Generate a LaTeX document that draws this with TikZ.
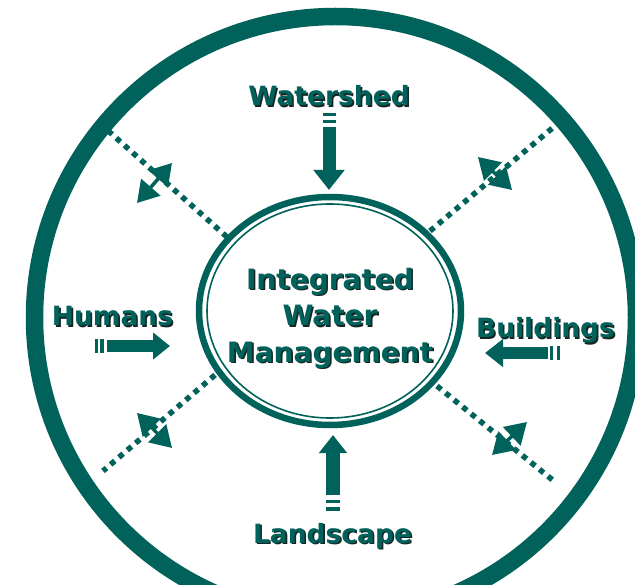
\documentclass[tikz,border=0pt]{standalone}
\usepackage{fontspec}
\setmainfont{DejaVu Sans}
\usetikzlibrary{arrows.meta,shapes.geometric}
\definecolor{iwmteal}{RGB}{0,98,90}
\definecolor{shadowc}{RGB}{22,38,36}
\newcommand\shd[1]{\leavevmode\rlap{\kern1.6pt\raisebox{-1.6pt}{\color{shadowc}#1}}#1}
\tikzset{
  lab/.style={text=iwmteal, font=\fontsize{26.5}{30}\selectfont\bfseries, anchor=base, inner sep=0pt},
  centertext/.style={text=iwmteal, font=\fontsize{28}{36.5}\selectfont\bfseries, align=center, inner sep=0pt},
  dotline/.style={draw=iwmteal, line width=5.5pt, dash pattern=on 5.5pt off 5.5pt},
  dblarrow/.style={draw=iwmteal, line width=3.5pt, {Triangle[length=21pt,width=25pt]}-{Triangle[length=21pt,width=25pt]}},
  tailbar/.style={draw=iwmteal},
}
\begin{document}
\begin{tikzpicture}[x=1pt,y=-1pt]
\useasboundingbox (0,0) rectangle (635,585);
\clip (0,0) rectangle (635,585);
\fill[white] (0,0) rectangle (635,585);
% outer ring
\draw[draw=iwmteal, line width=17.5pt] (335.5,317.5) circle [radius=301pt];
% central ellipse
\node[ellipse, draw=iwmteal, line width=6.5pt, minimum width=262pt, minimum height=228pt, inner sep=0pt] (iwm) at (330,311) {};
\draw[draw=iwmteal, line width=1.6pt] (iwm.center) ellipse [x radius=123pt, y radius=107pt];
\node[centertext] (iwmtext) at (330,319) {\shd{Integrated}\\\shd{Water}\\\shd{Management}};
% dotted diagonals
\coordinate (ulA) at (105,128); \coordinate (ulB) at (227,237);
\coordinate (urA) at (430,231); \coordinate (urB) at (562,120);
\coordinate (llA) at (215,375); \coordinate (llB) at (103,471);
\coordinate (lrA) at (437,386); \coordinate (lrB) at (555,482);
\draw[dotline] (ulB) -- (ulA);
\draw[dotline] (urA) -- (urB);
\draw[dotline] (llA) -- (llB);
\draw[dotline] (lrA) -- (lrB);
% double arrows
\coordinate (ul1) at (137,203); \coordinate (ul2) at (172,163);
\coordinate (ur1) at (478,157); \coordinate (ur2) at (512,190);
\coordinate (ll1) at (137,413); \coordinate (ll2) at (172,448);
\coordinate (lr1) at (527,422); \coordinate (lr2) at (492,455);
\draw[dblarrow] (ul1) -- (ul2);
\draw[dblarrow] (ur1) -- (ur2);
\draw[dblarrow] (ll1) -- (ll2);
\draw[dblarrow] (lr1) -- (lr2);
% labels
\node[lab] (ws) at (329,106) {\shd{Watershed}};
\node[lab] (hu) at (112.5,326) {\shd{Humans}};
\node[lab] (bu) at (545.5,338) {\shd{Buildings}};
\node[lab] (la) at (332.5,543) {\shd{Landscape}};
% Watershed arrow
\coordinate (wsS) at (329,127); \coordinate (wsE) at (329,190);
\draw[draw=iwmteal, line width=13pt, -{Triangle[length=20pt,width=30pt]}] (wsS) -- (wsE);
\draw[tailbar, line width=13pt] (329,113) -- (329,116.5);
\draw[tailbar, line width=13pt] (329,120) -- (329,123.5);
% Humans arrow
\coordinate (huS) at (107,346); \coordinate (huE) at (170,346);
\draw[draw=iwmteal, line width=12pt, -{Triangle[length=17pt,width=26pt]}] (huS) -- (huE);
\draw[tailbar, line width=14pt] (95,346) -- (97.5,346);
\draw[tailbar, line width=14pt] (100,346) -- (103.5,346);
% Buildings arrow
\coordinate (buS) at (548,353); \coordinate (buE) at (485,353);
\draw[draw=iwmteal, line width=12pt, -{Triangle[length=18pt,width=27pt]}] (buS) -- (buE);
\draw[tailbar, line width=14pt] (550,353) -- (553,353);
\draw[tailbar, line width=14pt] (557,353) -- (560,353);
% Landscape arrow
\coordinate (laS) at (333,495); \coordinate (laE) at (333,435);
\draw[draw=iwmteal, line width=14pt, -{Triangle[length=18pt,width=27pt]}] (laS) -- (laE);
\draw[tailbar, line width=14pt] (333,500) -- (333,503);
\draw[tailbar, line width=14pt] (333,507) -- (333,510.5);
\end{tikzpicture}
\end{document}
